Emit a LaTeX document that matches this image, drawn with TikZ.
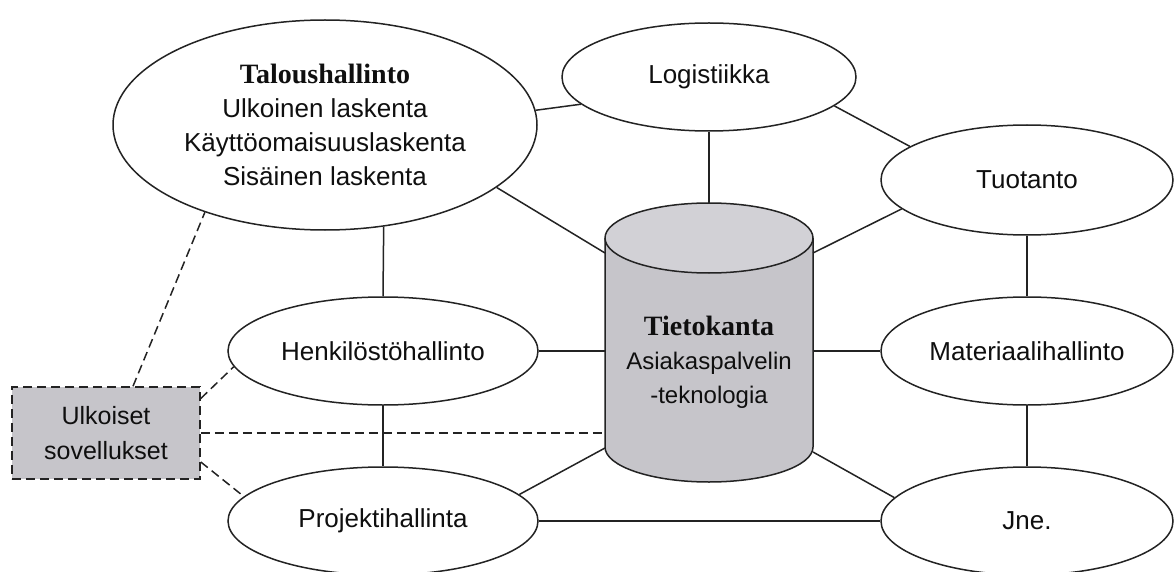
\documentclass[tikz,border=0pt]{standalone}
\usepackage{fontspec}
\setmainfont{Liberation Sans}
\newfontfamily\titlefont{Liberation Serif}
\usetikzlibrary{shapes.geometric}
\definecolor{ink}{RGB}{15,15,15}
\definecolor{linec}{RGB}{35,35,35}
\definecolor{boxgray}{RGB}{198,197,202}
\definecolor{topgray}{RGB}{210,209,214}
\begin{document}
\begin{tikzpicture}[x=1pt,y=-1pt,
  oval/.style={ellipse, draw=linec, line width=1.5pt, fill=white, inner sep=0pt,
    text=ink, font=\fontsize{26}{34}\selectfont, align=center},
  conn/.style={draw=linec, line width=1.5pt},
  dashconn/.style={conn, dash pattern=on 9pt off 5pt},
  extbox/.style={rectangle, draw=linec, line width=1.5pt, dash pattern=on 9pt off 5pt,
    fill=boxgray, inner sep=0pt, text=ink, align=center, font=\fontsize{25}{35}\selectfont},
  dbtxt/.style={inner sep=0pt, text=ink, align=center, font=\fontsize{24}{34}\selectfont}]
\fill[white] (0,0) rectangle (1174,572);
\useasboundingbox (0,0) rectangle (1174,572);

% cylinder
\fill[boxgray] (605,238) -- (605,447)
  .. controls (605,466.3) and (651.6,482) .. (709,482)
  .. controls (766.4,482) and (813,466.3) .. (813,447) -- (813,238) -- cycle;
\fill[topgray] (709,238) ellipse [x radius=104, y radius=35];
\draw[linec, line width=1.5pt] (605,238) -- (605,447)
  .. controls (605,466.3) and (651.6,482) .. (709,482)
  .. controls (766.4,482) and (813,466.3) .. (813,447) -- (813,238);
\draw[linec, line width=1.5pt] (709,238) ellipse [x radius=104, y radius=35];
\node[dbtxt] (db) at (709,362) {{\titlefont\bfseries\fontsize{28}{34}\selectfont Tietokanta}\\Asiakaspalvelin\\-teknologia};
\coordinate (dbtop) at (709,203);
\coordinate (dbTL) at (605,253);
\coordinate (dbTR) at (813,253);
\coordinate (dbL) at (605,351);
\coordinate (dbR) at (813,351);
\coordinate (dbD) at (605,433);
\coordinate (dbBL) at (605,448);
\coordinate (dbBR) at (813,452);

% nodes
\node[oval, minimum width=424, minimum height=210] (tal) at (325,125)
  {{\titlefont\bfseries\fontsize{28}{34}\selectfont Taloushallinto}\\Ulkoinen laskenta\\K\"aytt\"oomaisuuslaskenta\\Sis\"ainen laskenta};
\node[oval, minimum width=294, minimum height=108] (log) at (709,77) {Logistiikka};
\node[oval, minimum width=292, minimum height=110] (tuo) at (1027,180) {Tuotanto};
\node[oval, minimum width=292, minimum height=108] (mat) at (1027,351) {Materiaalihallinto};
\node[oval, minimum width=292, minimum height=108] (jne) at (1027,521) {Jne.};
\node[oval, minimum width=310, minimum height=108] (hen) at (383,351) {Henkilöstöhallinto};
\node[oval, minimum width=310, minimum height=108] (pro) at (383,521) {Projektihallinta};
\node[extbox, minimum width=188, minimum height=92] (ext) at (106,433) {Ulkoiset\\sovellukset};

% connectors
\draw[conn] (tal.4) -- (log.192);
\draw[conn] (log.-13.8) -- (tuo.164.7);
\draw[conn] (log.south) -- (dbtop);
\draw[conn] (tal.-20.4) -- (dbTL);
\draw[conn] (tuo.193.8) -- (dbTR);
\draw[conn] (tuo.south) -- (mat.north);
\draw[conn] (tal.-60.1) -- (hen.north);
\draw[conn] (hen.east) -- (dbL);
\draw[conn] (dbR) -- (mat.west);
\draw[conn] (mat.south) -- (jne.north);
\draw[conn] (hen.south) -- (pro.north);
\draw[conn] (pro.11.3) -- (dbBL);
\draw[conn] (dbBR) -- (jne.170.1);
\draw[conn] (pro.east) -- (jne.west);

\draw[dashconn] (ext.60.5) -- (tal.216.7);
\draw[dashconn] (ext.20.4) -- (hen.186.6);
\draw[dashconn] (ext.east) -- (dbD);
\draw[dashconn] (ext.-17.7) -- (pro.170.9);
\end{tikzpicture}
\end{document}
